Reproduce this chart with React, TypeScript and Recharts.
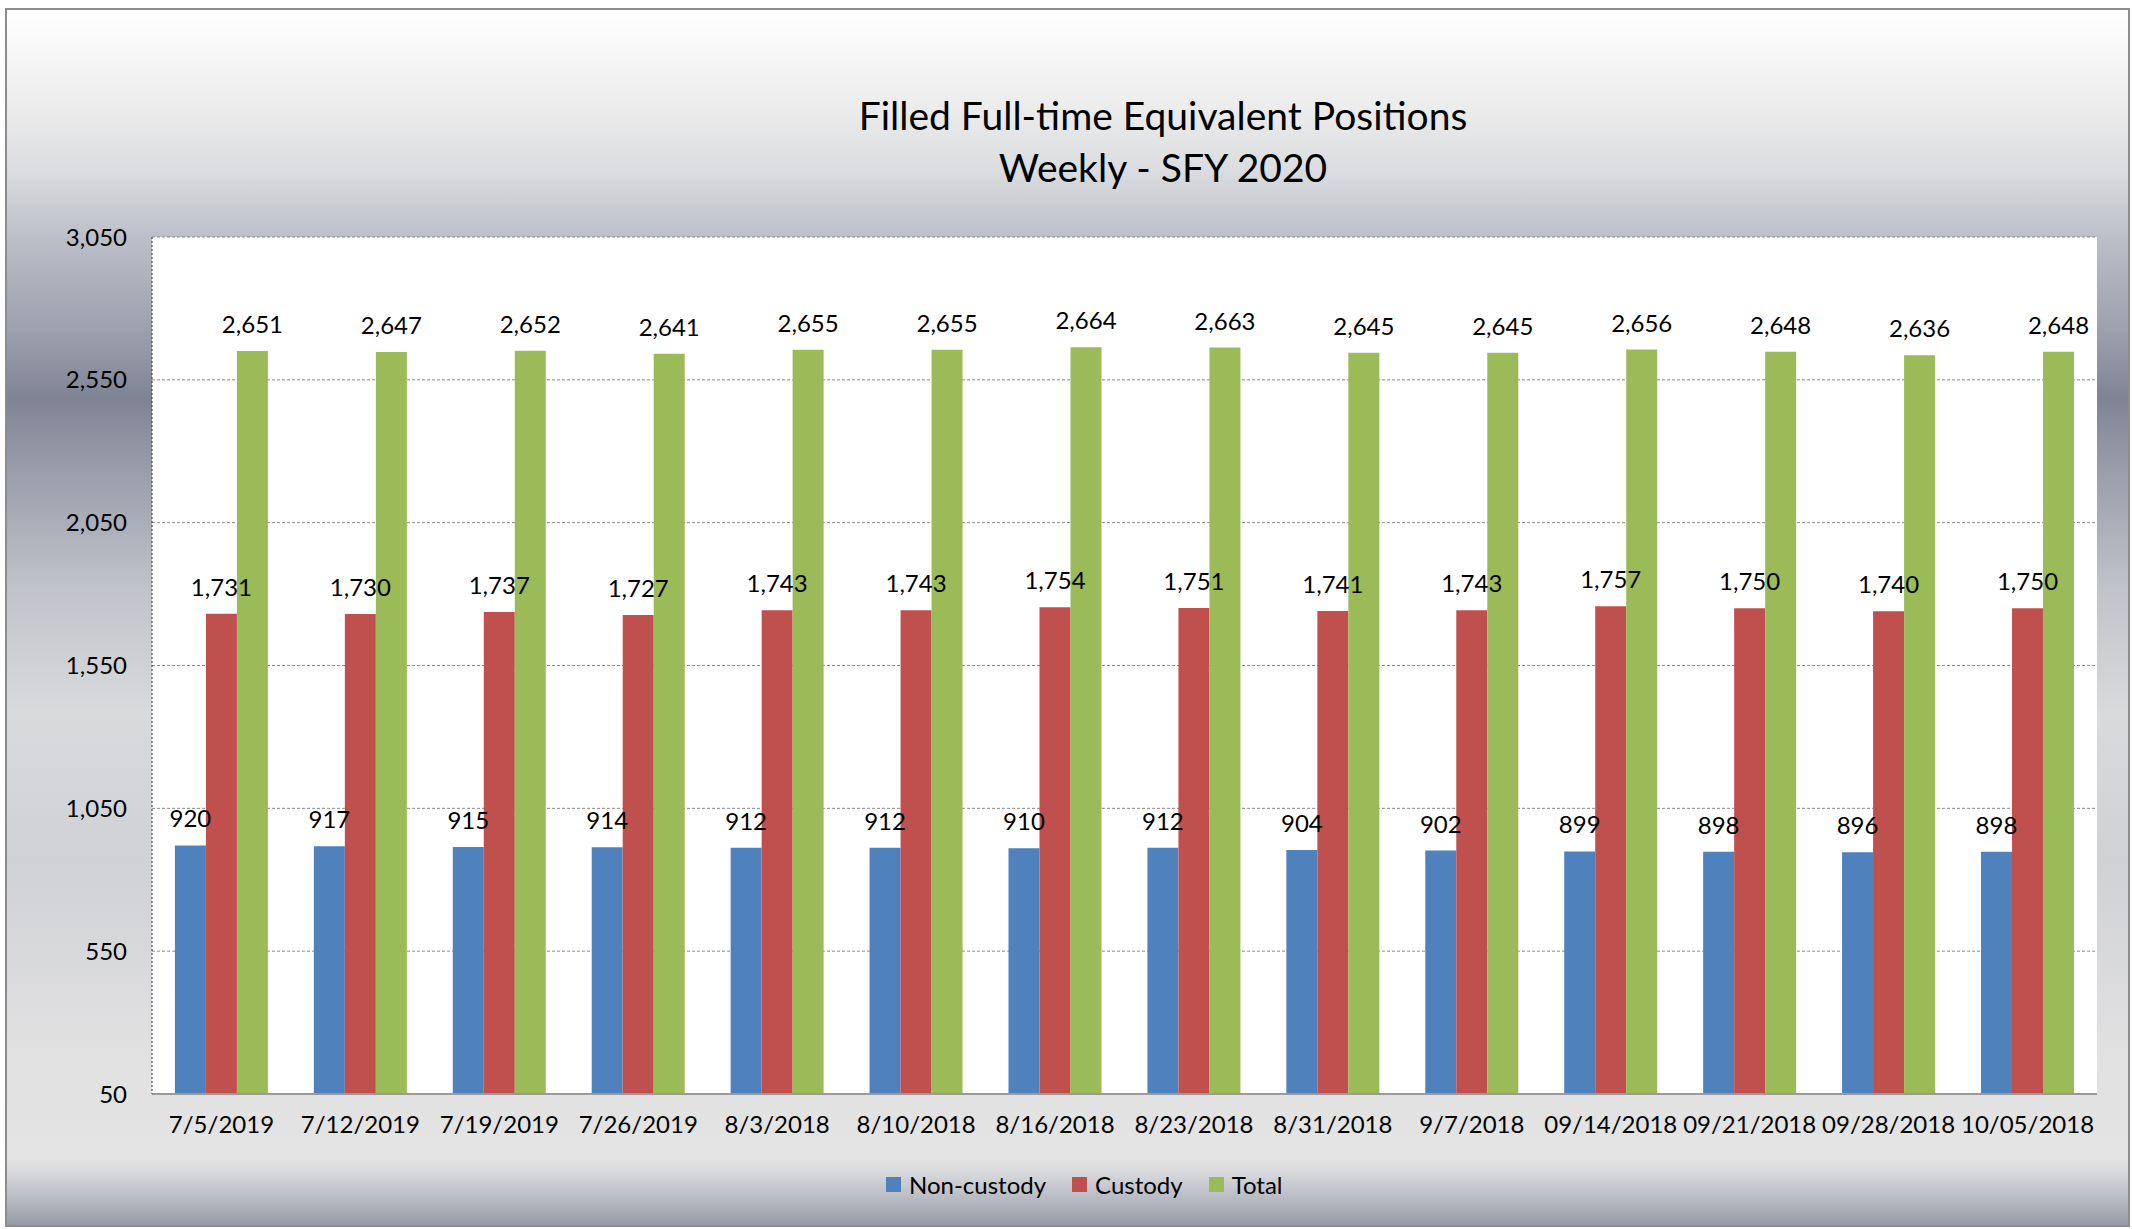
import { BarChart, Bar, XAxis, YAxis, CartesianGrid, LabelList } from "recharts"

const weeks = [
  "7/5/2019", "7/12/2019", "7/19/2019", "7/26/2019", "8/3/2018", "8/10/2018", "8/16/2018",
  "8/23/2018", "8/31/2018", "9/7/2018", "09/14/2018", "09/21/2018", "09/28/2018", "10/05/2018"
]
const nonCustody = [920, 917, 915, 914, 912, 912, 910, 912, 904, 902, 899, 898, 896, 898]
const custody = [1731, 1730, 1737, 1727, 1743, 1743, 1754, 1751, 1741, 1743, 1757, 1750, 1740, 1750]
const total = [2651, 2647, 2652, 2641, 2655, 2655, 2664, 2663, 2645, 2645, 2656, 2648, 2636, 2648]
const yTicks = [50, 550, 1050, 1550, 2050, 2550, 3050]

const series = [
  { key: "nonCustody", name: "Non-custody", color: "#4f81bd" },
  { key: "custody", name: "Custody", color: "#c0504d" },
  { key: "total", name: "Total", color: "#9bbb59" }
]

const data = weeks.map((week, i) => ({
  week,
  nonCustody: nonCustody[i],
  custody: custody[i],
  total: total[i]
}))

const FONT = "Lato, 'Open Sans', sans-serif"
const fmt = (v: number) => Number(v).toLocaleString("en-US")

export default function App() {
  return (
    <div style={{ position: "absolute", left: 0, top: 0, width: 2132, height: 1229, fontFamily: FONT }}>
      {/* chart area background */}
      <div
        style={{
          position: "absolute",
          left: 5,
          top: 8,
          width: 2121,
          height: 1215,
          border: "2px solid #8c8c8c",
          background:
            "linear-gradient(to bottom, #ffffff 0%, #ececec 8%, #dcdde0 13%, #bbbec7 19%, #9ca0ad 26.5%, #7f8495 32%, #9a9eab 38%, #c2c4ca 48%, #d9dadc 58%, #d0d1d5 70%, #e0e0e1 85%, #e4e4e4 94.5%, #d6d7da 95.8%, #bdbfc6 97.5%, #979ba7 100%)"
        }}
      />
      <div
        style={{
          position: "absolute",
          left: 1163,
          top: 89,
          transform: "translateX(-50%)",
          textAlign: "center",
          whiteSpace: "nowrap",
          fontSize: 39,
          lineHeight: "52px",
          color: "#000"
        }}
      >
        <div>Filled Full-time Equivalent Positions</div>
        <div>Weekly - SFY 2020</div>
      </div>
      <div style={{ position: "absolute", left: 0, top: 0 }}>
        <BarChart
          width={2132}
          height={1229}
          data={data}
          margin={{ top: 237, right: 35, bottom: 75, left: 52 }}
          barCategoryGap="16.5%"
          barGap={0}
        >
          <CartesianGrid vertical={false} stroke="#8a8a8a" strokeDasharray="3 2" fill="#ffffff" />
          <XAxis
            dataKey="week"
            interval={0}
            height={60}
            tickLine={false}
            tickSize={0}
            tickMargin={22}
            axisLine={{ stroke: "#9a9a9a", strokeWidth: 2 }}
            tick={{ fontSize: 24, fill: "#000", fontFamily: FONT }}
          />
          <YAxis
            domain={[50, 3050]}
            ticks={yTicks}
            width={100}
            tickLine={false}
            tickSize={0}
            tickMargin={25}
            tickFormatter={fmt}
            axisLine={{ stroke: "#333", strokeDasharray: "2 2" }}
            tick={{ fontSize: 24, fill: "#000", fontFamily: FONT }}
          />
          {series.map((s) => (
            <Bar key={s.key} dataKey={s.key} name={s.name} fill={s.color} isAnimationActive={false}>
              <LabelList
                dataKey={s.key}
                position="top"
                offset={18}
                formatter={fmt}
                style={{ fontSize: 24, fill: "#000", fontFamily: FONT }}
              />
            </Bar>
          ))}
        </BarChart>
      </div>
      {/* legend */}
      <div
        style={{
          position: "absolute",
          left: 886,
          top: 1170,
          display: "flex",
          alignItems: "center",
          fontSize: 24,
          color: "#000",
          whiteSpace: "nowrap"
        }}
      >
        {series.map((s) => (
          <div key={s.key} style={{ display: "flex", alignItems: "center", marginRight: 26 }}>
            <span style={{ width: 15, height: 15, background: s.color, display: "inline-block", marginRight: 8 }} />
            <span>{s.name}</span>
          </div>
        ))}
      </div>
    </div>
  )
}
